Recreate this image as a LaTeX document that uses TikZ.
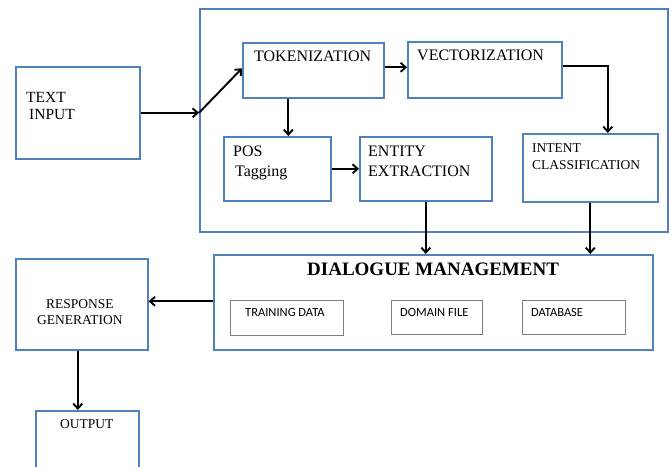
\documentclass[tikz,border=0pt]{standalone}
\usepackage{fontspec}
\setmainfont{Liberation Serif}
\newfontfamily\calfont{Carlito}
\usetikzlibrary{arrows.meta, positioning, calc}
\definecolor{boxblue}{HTML}{4F81BD}
\definecolor{boxgray}{HTML}{7F7F7F}

\begin{document}
\begin{tikzpicture}[x=1pt, y=-1pt,
  blk/.style={draw=boxblue, line width=1.6pt, inner sep=0pt, anchor=north west},
  sub/.style={draw=boxgray, line width=1.2pt, inner sep=0pt, anchor=north west},
  lbl/.style={inner sep=0pt, anchor=base west, align=left, font=\fontsize{16}{20}\selectfont},
  small/.style={lbl, font=\fontsize{13.5}{17}\selectfont},
  calib/.style={inner sep=0pt, anchor=base west, font=\calfont\fontsize{12.5}{15}\selectfont},
  arr/.style={-{Straight Barb[length=5pt, width=9pt]}, line width=1.9pt}]
\path[use as bounding box, clip] (0,0) rectangle (671,466);

\node[blk, minimum width=468pt, minimum height=223pt] (nlp) at (199,8) {};
\node[blk, minimum width=124pt, minimum height=92pt] (textin) at (15,66) {};
\node[blk, minimum width=141pt, minimum height=55pt] (tok) at (242,42) {};
\node[blk, minimum width=154pt, minimum height=56pt] (vec) at (407,41) {};
\node[blk, minimum width=107pt, minimum height=64pt] (pos) at (223,136) {};
\node[blk, minimum width=132pt, minimum height=64pt] (ent) at (359,136) {};
\node[blk, minimum width=135pt, minimum height=68pt] (intent) at (522,133) {};
\node[blk, minimum width=439pt, minimum height=95pt] (dm) at (213,254) {};
\node[blk, minimum width=132pt, minimum height=91pt] (resp) at (15,258) {};
\node[blk, minimum width=103pt, minimum height=62pt] (out) at (35,410) {};
\node[sub, minimum width=113pt, minimum height=35pt] (train) at (230,300) {};
\node[sub, minimum width=91pt, minimum height=34pt] (domain) at (391,300) {};
\node[sub, minimum width=103pt, minimum height=34pt] (db) at (522,300) {};

\node[lbl, font=\fontsize{15.5}{17}\selectfont] at (26,119) {TEXT\\\hspace{3pt}INPUT};
\node[lbl] at (254,61) {TOKENIZATION};
\node[lbl] at (417,60) {VECTORIZATION};
\node[lbl] at (233,176) {POS\\\hspace{2pt}Tagging};
\node[lbl] at (368,176) {ENTITY\\EXTRACTION};
\node[small] at (532,169) {INTENT\\CLASSIFICATION};
\node[small, font=\fontsize{13.5}{16}\selectfont] at (37,324) {\hspace{9pt}RESPONSE\\GENERATION};
\node[small] at (60,428) {OUTPUT};
\node[inner sep=0pt, anchor=base west, font=\bfseries\fontsize{19}{22}\selectfont] at (307,275) {DIALOGUE MANAGEMENT};
\node[calib] at (245,316) {TRAINING DATA};
\node[calib] at (400,316) {DOMAIN FILE};
\node[calib] at (531,316) {DATABASE};

\coordinate (join) at (nlp.west |- textin.east);
\draw[arr] (textin.east) -- (join);
\draw[arr] (join) -- ([yshift=2pt]tok.west);
\draw[arr] ([yshift=3pt]tok.east) -- ([yshift=3pt]tok.east -| vec.west);
\draw[arr] ([yshift=4pt]vec.east) -| ($(intent.north)+(17.5,0)$);
\draw[arr] ([xshift=-25pt]tok.south) -- ([xshift=-25pt]tok.south |- pos.north);
\draw[arr] (pos.east) -- (pos.east -| ent.west);
\draw[arr] (ent.south) -- (ent.south |- dm.north);
\draw[arr] (intent.south) -- (intent.south |- dm.north);
\draw[arr] ([yshift=1pt]dm.west) -- ([yshift=1pt]dm.west -| resp.east);
\draw[arr] ([xshift=-4pt]resp.south) -- ([xshift=-4pt]resp.south |- out.north);
\end{tikzpicture}
\end{document}
